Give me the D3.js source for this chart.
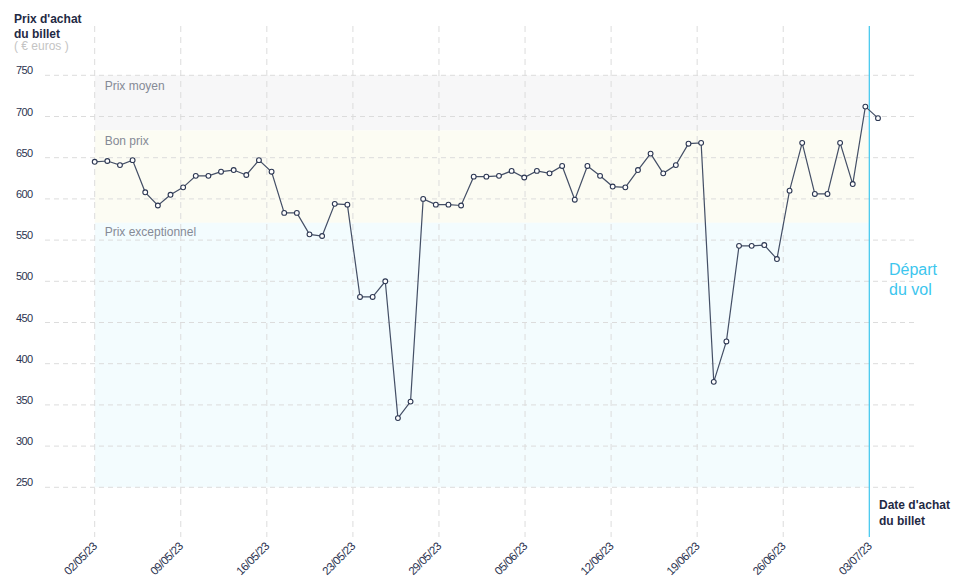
<!DOCTYPE html>
<html><head><meta charset="utf-8">
<script src="https://cdn.jsdelivr.net/npm/d3@7"></script>
<style>
html,body{margin:0;padding:0;background:#fff;}
svg{display:block;font-family:"Liberation Sans",Arial,sans-serif;}
</style></head><body>
<svg id="chart" width="958" height="585"></svg>
<script>
// ---- DATA ----
const purchaseDates = d3.timeDay.range(new Date(2023, 4, 2), new Date(2023, 6, 4)); // 02/05/23 .. 03/07/23, daily
const prices = [645, 646, 641, 647, 608, 592, 605, 614, 628, 628,
                633, 635, 629, 647, 633, 583, 583, 557, 555, 594,
                593, 481, 481, 500, 334, 354, 600, 593, 593, 592,
                627, 627, 628, 634, 626, 634, 631, 640, 599, 640,
                628, 615, 614, 635, 655, 631, 641, 667, 668, 378,
                427, 543, 543, 544, 527, 610, 668, 606, 606, 668,
                618, 712, 698];
const xTickLabels = ["02/05/23","09/05/23","16/05/23","23/05/23","29/05/23","05/06/23","12/06/23","19/06/23","26/06/23","03/07/23"];
const yTicks = [250, 300, 350, 400, 450, 500, 550, 600, 650, 700, 750];
const bandNames = ["Prix moyen", "Bon prix", "Prix exceptionnel"];
const bandLow  = [683, 571, 250];
const bandHigh = [750, 683, 571];
const bandColors = ["#f7f7f8", "#fcfcf3", "#f3fcfe"];
const bandLabelOffset = [15, 14, 13];

// ---- LAYOUT ----
const plotLeft = 94.7, lastPointX = 878, departX = 869.3;
const gridLeft = 45, gridRight = 918, plotTop = 26, plotBottom = 537;

const svg = d3.select("#chart");

const y = d3.scaleLinear().domain([250, 750]).range([487.3, 75.3]);
const x = d3.scalePoint().domain(d3.range(purchaseDates.length)).range([plotLeft, lastPointX]);
const xt = d3.scalePoint().domain(xTickLabels).range([plotLeft, departX]);

// bands
const bands = bandNames.map((n, i) => ({name: n, lo: bandLow[i], hi: bandHigh[i], color: bandColors[i], off: bandLabelOffset[i]}));
svg.append("g").selectAll("rect").data(bands).join("rect")
  .attr("x", plotLeft).attr("width", departX - plotLeft)
  .attr("y", d => y(d.hi)).attr("height", d => y(d.lo) - y(d.hi))
  .attr("fill", d => d.color);

// horizontal grid
svg.append("g").selectAll("line").data(yTicks).join("line")
  .attr("x1", gridLeft).attr("x2", gridRight)
  .attr("y1", d => y(d)).attr("y2", d => y(d))
  .attr("stroke", "#dcdcdc").attr("stroke-width", 1).attr("stroke-dasharray", "5,4");

// vertical grid
svg.append("g").selectAll("line").data(xTickLabels.slice(0, -1)).join("line")
  .attr("x1", d => xt(d)).attr("x2", d => xt(d))
  .attr("y1", plotTop).attr("y2", plotBottom)
  .attr("stroke", "#dcdcdc").attr("stroke-width", 1).attr("stroke-dasharray", "6,5");

// band labels
svg.append("g").selectAll("text").data(bands).join("text")
  .attr("x", plotLeft + 10).attr("y", d => y(d.hi) + d.off)
  .attr("font-size", 12).attr("fill", "#858a96")
  .text(d => d.name);

// departure line
svg.append("line").attr("x1", departX).attr("x2", departX)
  .attr("y1", plotTop).attr("y2", plotBottom)
  .attr("stroke", "#3cc6ee").attr("stroke-width", 1.2);

// y tick labels
svg.append("g").selectAll("text").data(yTicks).join("text")
  .attr("x", 16).attr("y", d => y(d) - 1)
  .attr("font-size", 11).attr("letter-spacing", "-0.6px").attr("fill", "#2b3350")
  .text(d => d);

// x tick labels
svg.append("g").selectAll("text").data(xTickLabels).join("text")
  .attr("transform", d => `translate(${xt(d) + 3},${plotBottom + 10}) rotate(-45)`)
  .attr("text-anchor", "end")
  .attr("font-size", 11.5).attr("letter-spacing", "-0.5px").attr("fill", "#2b3350")
  .text(d => d);

// line
const line = d3.line().x((d, i) => x(i)).y(d => y(d));
svg.append("path").datum(prices)
  .attr("d", line).attr("fill", "none")
  .attr("stroke", "#444f66").attr("stroke-width", 1.2);

svg.append("g").selectAll("circle").data(prices).join("circle")
  .attr("cx", (d, i) => x(i)).attr("cy", d => y(d)).attr("r", 2.4)
  .attr("fill", "#fff").attr("stroke", "#2c3752").attr("stroke-width", 1.1);

// titles
const title = svg.append("text").attr("x", 14).attr("font-size", 12).attr("font-weight", "bold").attr("fill", "#1f2a44");
title.append("tspan").attr("x", 14).attr("y", 22.5).text("Prix d'achat");
title.append("tspan").attr("x", 14).attr("y", 37.5).text("du billet");
svg.append("text").attr("x", 14).attr("y", 50).attr("font-size", 12).attr("fill", "#c4c4c4").text("( € euros )");

const xt2 = svg.append("text").attr("font-size", 12).attr("font-weight", "bold").attr("fill", "#1f2a44");
xt2.append("tspan").attr("x", 879).attr("y", 509).text("Date d'achat");
xt2.append("tspan").attr("x", 879).attr("y", 524.5).text("du billet");

const dep = svg.append("text").attr("font-size", 16).attr("fill", "#3cc6ee");
dep.append("tspan").attr("x", 889).attr("y", 274.5).text("Départ");
dep.append("tspan").attr("x", 889).attr("y", 294.5).text("du vol");
</script>
</body></html>
